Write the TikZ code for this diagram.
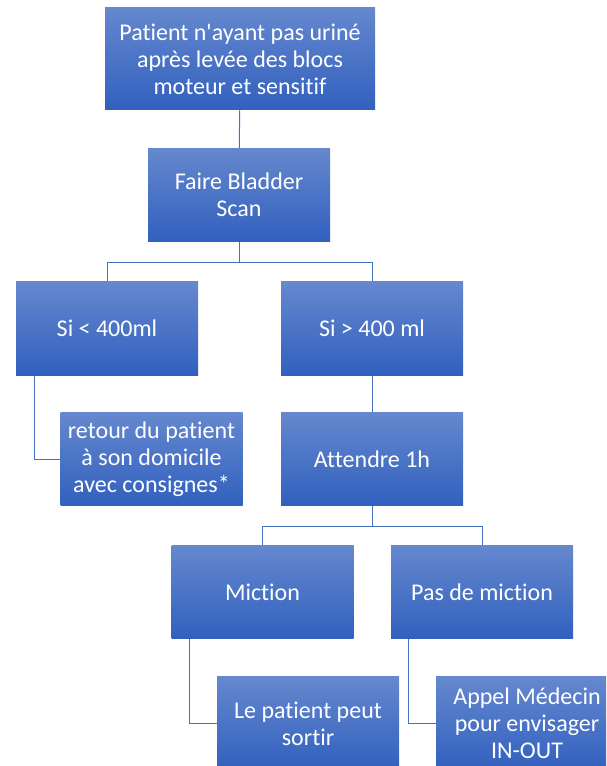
\documentclass[tikz,border=0pt]{standalone}
\usepackage{fontspec}
\newfontfamily\boxfont[Ligatures=NoCommon]{Carlito}
\definecolor{boxtop}{RGB}{101,136,206}
\definecolor{boxbot}{RGB}{49,96,190}
\definecolor{linkcol}{RGB}{70,112,192}
\begin{document}
\begin{tikzpicture}[x=0.75pt,y=-0.75pt]
	\clip (0,0) rectangle (606,766);
	\begin{scope}[line width=0.75pt]
		\tikzstyle{every node}=[shape=rectangle,top color=boxtop,bottom color=boxbot,draw=none,text=white,align=center,font=\boxfont\fontsize{18}{20.3}\selectfont,minimum width=136.5pt,minimum height=70pt,inner sep=2pt];
		\path (240  , 59   ) node[minimum width=202.5pt,minimum height=76.5pt] (nstart) {Patient n'ayant pas uriné\\après levée des blocs\\moteur et sensitif};
		\path (239  , 195  ) node (nscan)  {Faire Bladder\\Scan};
		\path (107  , 328.5) node (nlow)   {Si < 400ml};
		\path (372  , 328.5) node (nhigh)  {Si > 400 ml};
		\path (151.5, 459  ) node (nhome)  {retour du patient\\à son domicile\\avec consignes*};
		\path (372  , 459  ) node (nwait)  {Attendre 1h};
		\path (262.5, 592  ) node (nmic)   {Miction};
		\path (482  , 592  ) node (nnomic) {Pas de miction};
		\path (308  , 723.5) node (nout)   {Le patient peut\\sortir};
		\path (527  , 723.5) node (ncall)  {Appel Médecin\\pour envisager\\IN-OUT};

		\draw[linkcol] (nstart) -- (nscan);
		\draw[linkcol] (nscan.south) -- ++(0,20) -| (nlow.north);
		\draw[linkcol] (nscan.south) -- ++(0,20) -| (nhigh.north);
		\draw[linkcol] ([xshift=19pt*0.75]nlow.south west) |- (nhome.west);
		\draw[linkcol] (nhigh) -- (nwait);
		\draw[linkcol] (nwait.south) -- ++(0,20) -| (nmic.north);
		\draw[linkcol] (nwait.south) -- ++(0,20) -| (nnomic.north);
		\draw[linkcol] ([xshift=18pt*0.75]nmic.south west) |- (nout.west);
		\draw[linkcol] ([xshift=18pt*0.75]nnomic.south west) |- (ncall.west);
	\end{scope}
\end{tikzpicture}
\end{document}
